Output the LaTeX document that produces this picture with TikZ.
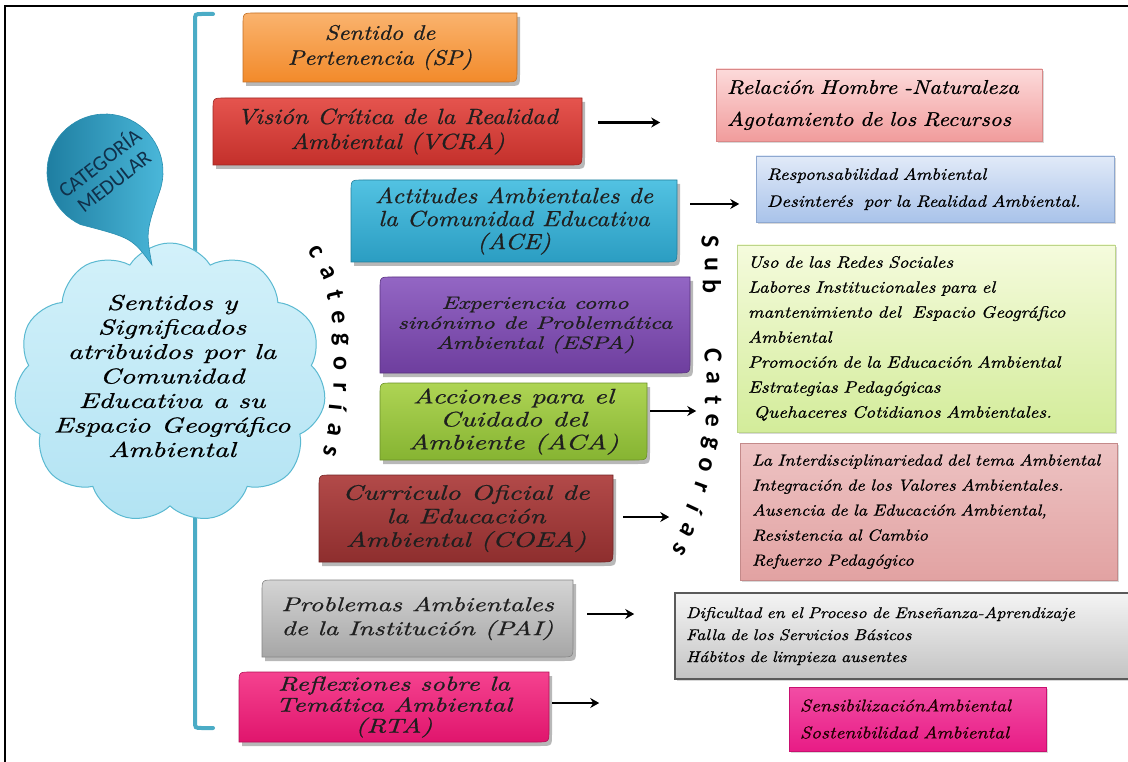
\documentclass[tikz,border=0pt]{standalone}
\usepackage{fontspec}
\usetikzlibrary{shapes.symbols,arrows.meta,shadows}
\newfontfamily\callifnt{lmroman10-italic}[Extension=.otf,FakeStretch=1.15,FakeBold=0.8]
\newfontfamily\widefnt{lmroman10-italic}[Extension=.otf,FakeStretch=1.35,FakeBold=0.8]
\newfontfamily\carlfnt{Carlito}
\hyphenpenalty=10000 \exhyphenpenalty=10000
\definecolor{sptop}{HTML}{FAB36E}\definecolor{spbot}{HTML}{F28A2A}
\definecolor{vcratop}{HTML}{E5544E}\definecolor{vcrabot}{HTML}{C3302B}
\definecolor{acetop}{HTML}{52C2E2}\definecolor{acebot}{HTML}{2B9DC2}
\definecolor{espatop}{HTML}{9366C4}\definecolor{espabot}{HTML}{6E3E9E}
\definecolor{acatop}{HTML}{AED454}\definecolor{acabot}{HTML}{86B432}
\definecolor{coeatop}{HTML}{B24A49}\definecolor{coeabot}{HTML}{8E2E2E}
\definecolor{paitop}{HTML}{D4D4D4}\definecolor{paibot}{HTML}{A6A6A6}
\definecolor{rtatop}{HTML}{F5428F}\definecolor{rtabot}{HTML}{E0156D}
\definecolor{pkt}{HTML}{FCDADA}\definecolor{pkb}{HTML}{F19C9C}\definecolor{pkd}{HTML}{D98888}
\definecolor{blt}{HTML}{E1EAF8}\definecolor{blb}{HTML}{A9C3EA}\definecolor{bld}{HTML}{8EA8D0}
\definecolor{grt}{HTML}{F5FBDD}\definecolor{grb}{HTML}{D3EC9A}\definecolor{grd}{HTML}{BCD58A}
\definecolor{rdt}{HTML}{EDC3C3}\definecolor{rdb}{HTML}{E2A2A2}\definecolor{rdd}{HTML}{C48A8A}
\definecolor{gyt}{HTML}{F4F4F4}\definecolor{gyb}{HTML}{C3C3C3}\definecolor{gyd}{HTML}{5A5A5A}
\definecolor{mgt}{HTML}{F24DA5}\definecolor{mgb}{HTML}{E81C85}\definecolor{mgd}{HTML}{C81070}
\definecolor{brk}{HTML}{4BACC6}
\definecolor{cloudtop}{HTML}{D3F1FA}\definecolor{cloudbot}{HTML}{B2E3F3}\definecolor{cloudline}{HTML}{5AB9D1}
\definecolor{bubL}{HTML}{1C7B9E}\definecolor{bubR}{HTML}{4DBBDD}\definecolor{bubline}{HTML}{2A8FB0}
\definecolor{bubtext}{HTML}{10304A}
\tikzset{
  arr/.style={line width=2.2pt,-{Stealth[length=9pt,width=10pt,inset=3pt]}},
  catnode/.style={align=center,inner sep=0pt,text=black!88},
  subbox/.style={rectangle,align=left,inner xsep=11pt,inner ysep=0pt,line width=.8pt,
     drop shadow={shadow xshift=2pt,shadow yshift=-2pt,opacity=.3}},
  letter/.style={font=\carlfnt\bfseries\fontsize{26}{26}\selectfont,inner sep=0pt},
  bracketline/.style={draw=brk,line width=4pt,line cap=round},
}
\newcommand\dpath[4]{({#1+12},{#2}) -- ({#3},{#2}) -- ({#3},{#4-12}) .. controls ({#3},{#4}) .. ({#3-12},{#4}) -- ({#1},{#4}) -- ({#1},{#2+12}) .. controls ({#1},{#2}) .. ({#1+12},{#2}) -- cycle}
\newcommand\catbox[9]{%
  \path[fill=black,opacity=.28] \dpath{#2+3}{#3+4}{#4+3}{#5+4};
  \path[top color=#6,bottom color=#7,draw=#7!80!black,line width=.6pt] \dpath{#2}{#3}{#4}{#5};
  \node[catnode,font=#8,minimum width={(#4-#2)*1pt},minimum height={(#5-#3)*1pt}] (#1) at ({(#2+#4)/2},{(#3+#5)/2}) {#9};
}
\begin{document}
\begin{tikzpicture}[x=1pt,y=-1pt]
\useasboundingbox (0,0) rectangle (1128,762);
\fill[white] (0,0) rectangle (1128,762);
\draw[line width=2.5pt] (5,6) rectangle (1145,780);
% bracket
\draw[bracketline] (213,14) -- (202,14) .. controls (195,14) .. (195,21) -- (195,721) .. controls (195,728) .. (202,728) -- (213,728);
% cloud
\node[cloud,cloud puffs=11,cloud puff arc=115,aspect=1.12,minimum width=312pt,minimum height=280pt,inner sep=0pt,
      draw=cloudline,line width=1pt,top color=cloudtop,bottom color=cloudbot] (cloud) at (170,383) {};
\node[align=center,font=\widefnt\fontsize{21.5}{24.5}\selectfont,text=black] (cloudtxt) at (172,376)
  {Sentidos y\\Significados\\atribuidos por la\\Comunidad\\Educativa a su\\Espacio Geográfico\\Ambiental};
% bubble
\path[left color=bubL,right color=bubR,draw=bubline,line width=.6pt]
  (152,265) .. controls (146,232) .. ({105+58*cos(20)},{172+58*sin(20)})
  arc[start angle=20,end angle=-245,radius=58]
  .. controls (132,238) .. (152,265) -- cycle;
\node[rotate=38,align=center,font=\carlfnt\fontsize{21}{23}\selectfont,text=bubtext] (medtxt) at (106,171) {CATEGORÍA\\MEDULAR};
% category boxes
\catbox{sp}{243}{13}{517}{82}{sptop}{spbot}{\callifnt\fontsize{21}{25}\selectfont}{Sentido de\\Pertenencia (SP)}
\catbox{vcra}{213}{98}{582}{165}{vcratop}{vcrabot}{\callifnt\fontsize{22}{25}\selectfont}{Visión Crítica de la Realidad\\Ambiental (VCRA)}
\catbox{ace}{351}{180}{677}{262}{acetop}{acebot}{\callifnt\fontsize{22}{23}\selectfont}{Actitudes Ambientales de\\la Comunidad Educativa\\(ACE)}
\catbox{espa}{380}{277}{690}{373}{espatop}{espabot}{\widefnt\fontsize{18}{20}\selectfont}{Experiencia como\\sinónimo de Problemática\\Ambiental (ESPA)}
\catbox{aca}{380}{383}{647}{460}{acatop}{acabot}{\widefnt\fontsize{21}{23}\selectfont}{Acciones para el\\Cuidado del\\Ambiente (ACA)}
\catbox{coea}{319}{475}{613}{562}{coeatop}{coeabot}{\widefnt\fontsize{21}{23.5}\selectfont}{Curriculo Oficial de\\la Educación\\Ambiental (COEA)}
\catbox{pai}{262}{580}{573}{657}{paitop}{paibot}{\widefnt\fontsize{20}{24}\selectfont}{Problemas Ambientales\\de la Institución (PAI)}
\catbox{rta}{239}{672}{549}{742}{rtatop}{rtabot}{\widefnt\fontsize{20}{21}\selectfont}{Reflexiones sobre la\\Temática Ambiental\\(RTA)}
% sub-category boxes
\node[subbox,top color=pkt,bottom color=pkb,draw=pkd,minimum width=326pt,minimum height=72pt,text width=304pt,
      font=\callifnt\fontsize{20}{32}\selectfont] (rel) at (879,105)
  {Relación Hombre -Naturaleza\\Agotamiento de los Recursos};
\node[subbox,top color=blt,bottom color=blb,draw=bld,minimum width=358pt,minimum height=66pt,text width=336pt,
      font=\callifnt\fontsize{16.5}{27}\selectfont] (resp) at (935,189)
  {Responsabilidad Ambiental\\Desinterés\ \ por la Realidad Ambiental.};
\node[subbox,top color=grt,bottom color=grb,draw=grd,minimum width=378pt,minimum height=187pt,text width=356pt,
      font=\callifnt\fontsize{16.5}{25}\selectfont] (uso) at (926,338.5)
  {Uso de las Redes Sociales\\Labores Institucionales para el\\mantenimiento del\ \ Espacio Geográfico\\Ambiental\\Promoción de la Educación Ambiental\\Estrategias Pedagógicas\\\ Quehaceres Cotidianos Ambientales.};
\node[subbox,top color=rdt,bottom color=rdb,draw=rdd,minimum width=377pt,minimum height=137pt,text width=359pt,inner xsep=9pt,
      font=\callifnt\fontsize{16}{25}\selectfont] (inter) at (928.5,511.5)
  {\hspace*{3pt}La Interdisciplinariedad del tema Ambiental\\\hspace*{3pt}Integración de los Valores Ambientales.\\\hspace*{3pt}Ausencia de la Educación Ambiental,\\\hspace*{3pt}Resistencia al Cambio\\\hspace*{3pt}Refuerzo Pedagógico};
\node[subbox,top color=gyt,bottom color=gyb,draw=gyd,line width=1.2pt,minimum width=465pt,minimum height=86pt,text width=443pt,
      font=\callifnt\fontsize{15.5}{22}\selectfont] (dif) at (907.5,636)
  {Dificultad en el Proceso de Enseñanza-Aprendizaje\\Falla de los Servicios Básicos\\Hábitos de limpieza ausentes};
\node[subbox,top color=mgt,bottom color=mgb,draw=mgd,minimum width=257pt,minimum height=64pt,text width=235pt,
      font=\callifnt\fontsize{17}{27}\selectfont,text=black!80!red!60!black] (sens) at (917.5,719)
  {SensibilizaciónAmbiental\\Sostenibilidad Ambiental};
% arrows
\draw[arr] ([shift={(16pt,9pt)}]vcra.east) -- ++(62,0);
\draw[arr] ([shift={(13pt,17pt)}]ace.east) -- ++(49,0);
\draw[arr] ([shift={(3pt,10.5pt)}]aca.east) -- ++(46,0);
\draw[arr] ([shift={(10pt,1.5pt)}]coea.east) -- ++(46,0);
\draw[arr] ([shift={(14pt,4.5pt)}]pai.east) -- ++(47,0);
\draw[arr] ([shift={(3pt,4pt)}]rta.east) -- ++(47,0);
% vertical letters
\foreach \lx/\ly/\ang/\ch [count=\i] in {316/252/-58/c,328/273/-66/a,335/295/-77/t,338/317/-84/e,340/340/-88/g,340/363/-90/o,340/387/-92/r,338/408/-96/í,335/430/-100/a,330/451/-105/s}
  \node[letter,rotate=\ang] (lc\i) at (\lx,\ly) {\ch};
\foreach \lx/\ly/\ang/\ch [count=\i] in {710/242/-90/S,711/264/-90/u,712/286/-90/b,713/355/-90/C,713/378/-90/a,713/400/-92/t,712/421/-95/e,710/443/-100/g,706/465/-105/o,701/487/-110/r,695/509/-115/í,688/530/-120/a,680/549/-125/s}
  \node[letter,rotate=\ang] (rc\i) at (\lx,\ly) {\ch};
\end{tikzpicture}
\end{document}
